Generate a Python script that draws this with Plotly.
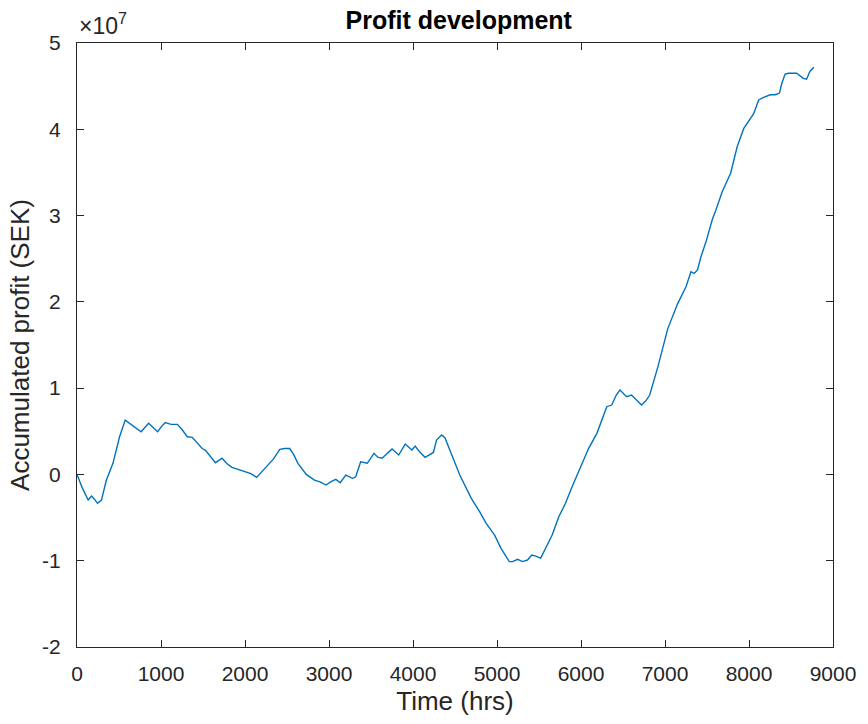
import plotly.graph_objects as go

# Accumulated profit over the simulated year
hours = [0, 60, 133, 173, 210, 244, 291, 350, 428, 507, 574, 660, 763, 853, 900,
         959, 1010, 1050, 1120, 1195, 1250, 1313, 1372, 1430, 1490, 1530, 1590,
         1648, 1727, 1780, 1845, 1920, 2001, 2070, 2139, 2200, 2276, 2340, 2414,
         2470, 2532, 2580, 2630, 2729, 2827, 2900, 2964, 3030, 3082, 3133, 3200,
         3279, 3318, 3377, 3456, 3535, 3580, 3633, 3700, 3751, 3830, 3908, 3987,
         4026, 4080, 4144, 4243, 4280, 4341, 4380, 4557, 4694, 4793, 4871, 4970,
         5048, 5146, 5186, 5245, 5304, 5363, 5414, 5461, 5520, 5579, 5658, 5736,
         5815, 5894, 5972, 6051, 6090, 6189, 6250, 6307, 6366, 6420, 6464, 6543,
         6602, 6660, 6720, 6770, 6818, 6916, 7033, 7151, 7250, 7309, 7348, 7387,
         7427, 7486, 7565, 7604, 7682, 7781, 7860, 7938, 7997, 8056, 8115, 8174,
         8253, 8312, 8363, 8390, 8430, 8469, 8567, 8646, 8685, 8725, 8772]

# profit in million SEK
profit_msek = [0, -1.5, -2.97, -2.5, -2.9, -3.35, -2.97, -0.65, 1.29, 4.37, 6.3,
               5.7, 4.95, 5.92, 5.5, 4.95, 5.6, 6.0, 5.8, 5.8, 5.2, 4.37, 4.3, 3.6,
               3.0, 2.8, 2.0, 1.36, 1.87, 1.3, 0.82, 0.6, 0.31, 0.1, -0.34, 0.3,
               1.09, 1.8, 2.9, 3.0, 3.0, 2.3, 1.29, 0.0, -0.65, -0.9, -1.23, -0.8,
               -0.57, -0.96, -0.07, -0.45, -0.27, 1.47, 1.29, 2.45, 2.0, 1.87, 2.5,
               2.94, 2.25, 3.52, 2.83, 3.29, 2.6, 1.99, 2.55, 3.99, 4.57, 4.25,
               -0.07, -2.77, -4.32, -5.67, -7.0, -8.56, -10.1, -10.1, -9.84, -10.1,
               -9.92, -9.34, -9.46, -9.7, -8.56, -7.0, -4.9, -3.35, -1.42, 0.31,
               2.05, 3.0, 4.76, 6.3, 7.85, 8.04, 9.2, 9.78, 9.0, 9.2, 8.6, 8.04,
               8.5, 9.2, 12.5, 16.9, 19.8, 21.75, 23.5, 23.3, 23.7, 25.2, 26.9,
               29.6, 30.6, 32.8, 34.9, 38.0, 40.1, 40.9, 41.8, 43.4, 43.7, 44.0,
               44.0, 44.2, 45.3, 46.4, 46.5, 46.5, 45.9, 45.8, 46.7, 47.2]

x_ticks = [0, 1000, 2000, 3000, 4000, 5000, 6000, 7000, 8000, 9000]
y_ticks_scaled = [-2, -1, 0, 1, 2, 3, 4, 5]   # in units of 1e7 SEK

profit_sek = [p * 1e6 for p in profit_msek]

FONT = "Liberation Sans, Arial, Helvetica, sans-serif"
AX_COLOR = "#262626"

fig = go.Figure()
fig.add_trace(go.Scatter(
    x=hours, y=profit_sek, mode="lines",
    line=dict(color="#0072BD", width=1.4),
    showlegend=False,
))

axis_common = dict(
    showgrid=False, zeroline=False,
    showline=True, linecolor=AX_COLOR, linewidth=1, mirror="ticks",
    ticks="inside", ticklen=7, tickwidth=1, tickcolor=AX_COLOR,
    tickfont=dict(family=FONT, size=21, color=AX_COLOR),
)

fig.update_layout(
    width=868, height=724,
    margin=dict(l=77, r=28, t=43, b=77),
    paper_bgcolor="white", plot_bgcolor="white",
    title=dict(text="<b>Profit development</b>", x=0.5285, xanchor="center",
               y=0.972, yanchor="middle",
               font=dict(family=FONT, size=25, color="#000000")),
    xaxis=dict(
        range=[0, 9000], tickvals=x_ticks,
        ticktext=[str(v) for v in x_ticks],
        title=dict(text="Time (hrs)", standoff=7,
                   font=dict(family=FONT, size=26, color=AX_COLOR)),
        ticklabelstandoff=8,
        **axis_common,
    ),
    yaxis=dict(
        range=[-2e7, 5e7], tickvals=[v * 1e7 for v in y_ticks_scaled],
        ticktext=[str(v) for v in y_ticks_scaled],
        title=dict(text="Accumulated profit (SEK)", standoff=5,
                   font=dict(family=FONT, size=26, color=AX_COLOR)),
        ticklabelstandoff=11,
        **axis_common,
    ),
    annotations=[dict(
        text="×10<sup>7</sup>", xref="paper", yref="paper",
        x=0, y=1, xanchor="left", yanchor="bottom", yshift=2, showarrow=False,
        font=dict(family=FONT, size=23, color=AX_COLOR),
    )],
)

fig.write_html("out.html")
